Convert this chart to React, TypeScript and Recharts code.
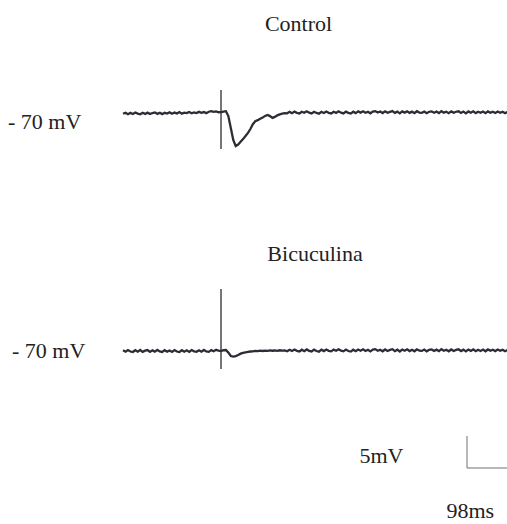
import React from "react";
import { LineChart, Line, XAxis, YAxis, ReferenceLine } from "recharts";

// Sampling grid (ms), stimulus at t = 0
const STEP_MS = 6;
const START_MS = -240;

// Membrane potential traces (mV)
const controlMv: number[] = [
  -70.12, -69.95, -70.18, -69.98, -70.15, -69.92, -70.1, -70.2, -69.96, -70.14,
  -69.94, -70.16, -70.0, -69.9, -70.13, -69.95, -70.17, -69.97, -70.08, -69.88,
  -70.12, -69.93, -70.06, -69.86, -70.1, -69.94, -70.02, -69.84, -70.05, -69.9,
  -70.0, -69.82, -69.96, -69.85, -70.02, -69.8, -69.72, -69.82, -69.74, -69.88,
  -69.85, -69.77, -69.72, -70.47, -72.34, -74.22, -75.16, -74.92, -74.5, -74.08,
  -73.6, -73.1, -72.5, -71.75, -71.28, -71.12, -70.9, -70.72, -70.45, -70.3,
  -70.48, -70.76, -70.6, -70.36, -70.22, -70.1, -70.02,
  -70.05, -69.82, -70.02, -69.78, -69.98, -70.08, -69.8, -69.96, -69.74, -69.95,
  -70.06, -69.8, -69.99, -70.1, -69.83, -70.0, -69.76, -69.97, -70.07, -69.81,
  -69.98, -69.74, -69.95, -70.06, -69.79, -69.97, -70.09, -69.8, -70.01, -69.75,
  -69.94, -69.72, -69.96, -69.8, -70.04, -69.78, -69.7, -69.93, -69.77, -70.0,
  -69.74, -69.96, -69.82, -69.7, -69.98, -69.78, -70.05, -69.75, -69.94, -69.73,
  -69.98, -69.79, -70.02, -69.72, -69.93, -69.97, -69.76, -70.03, -69.8, -69.74,
  -69.96, -69.78, -70.01, -69.71, -69.94, -69.8, -70.02, -69.75, -69.97, -69.8,
  -69.73, -69.99, -69.78, -70.05, -69.76, -69.96, -69.74, -70.01, -69.8, -69.97,
  -69.77, -70.03, -69.75, -69.95, -69.79, -70.0, -69.76, -69.96, -69.8, -70.02,
  -69.84,
];

const bicuculinaMv: number[] = [
  -69.9, -70.12, -69.86, -70.08, -70.16, -69.88, -70.1, -69.84, -70.14, -69.95,
  -69.85, -70.15, -69.9, -70.1, -69.83, -70.06, -70.16, -69.87, -70.1, -69.92,
  -70.14, -69.85, -70.08, -70.17, -69.88, -70.11, -69.9, -70.14, -69.86, -70.06,
  -70.12, -69.88, -70.1, -69.84, -70.08, -70.13, -69.86, -70.04, -69.82, -69.94,
  -70.0, -69.88, -69.85, -70.25, -70.78, -70.88, -70.8, -70.62, -70.42, -70.3,
  -70.2, -70.14, -70.08, -70.05, -69.98, -70.03, -69.95, -70.0, -69.93, -69.98,
  -69.9, -69.96, -69.92, -69.99, -69.89, -69.95, -69.91,
  -70.04, -69.8, -70.0, -69.78, -69.98, -70.08, -69.8, -70.02, -69.76, -69.97,
  -70.07, -69.79, -70.0, -70.1, -69.8, -70.01, -69.77, -69.98, -70.06, -69.79,
  -69.97, -69.74, -69.94, -70.05, -69.78, -70.0, -70.09, -69.8, -70.03, -69.77,
  -69.95, -69.73, -70.0, -69.8, -70.06, -69.78, -69.71, -69.97, -69.8, -70.04,
  -69.76, -69.99, -69.82, -69.72, -70.02, -69.79, -70.07, -69.77, -69.96, -69.74,
  -70.01, -69.8, -70.04, -69.73, -69.95, -69.99, -69.77, -70.05, -69.82, -69.75,
  -69.98, -69.79, -70.03, -69.72, -69.96, -69.81, -70.04, -69.76, -69.99, -69.82,
  -69.74, -70.01, -69.79, -70.06, -69.77, -69.98, -69.75, -70.03, -69.81, -69.99,
  -69.78, -70.04, -69.76, -69.96, -69.8, -70.01, -69.77, -69.97, -69.81, -70.03,
  -69.85,
];

// Stimulus artifacts (mV extent at t = 0)
const controlArtifact: [number, number] = [-66.41, -75.63];
const bicuculinaArtifact: [number, number] = [-60.31, -72.81];

// Calibration bar
const SCALE_MV = 5;
const SCALE_MS = 98;

// Labels
const TITLE_CONTROL = "Control";
const TITLE_BICU = "Bicuculina";
const RESTING_LABEL = "- 70 mV";
const SCALE_MV_LABEL = "5mV";
const SCALE_MS_LABEL = "98ms";

const timesMs = controlMv.map((_, i) => START_MS + STEP_MS * i);
const data = timesMs.map((t, i) => ({
  t,
  control: controlMv[i],
  bicu: bicuculinaMv[i],
}));

const W = 507;
const H = 524;
const X_DOMAIN: [number, number] = [-541.5, 700.7];
const Y_DOMAIN_A: [number, number] = [-134.22, -52.34];
const Y_DOMAIN_B: [number, number] = [-97.03, -15.16];
const BAR_T = X_DOMAIN[1] - SCALE_MS;
const BAR_BOTTOM = -88.28;

const TRACE = "#2a2d33";
const FONT = "'Liberation Serif', 'Times New Roman', serif";

export default function App() {
  return (
    <div style={{ position: "absolute", left: 0, top: 0, width: W, height: H, background: "#fff" }}>
      <LineChart width={W} height={H} data={data} margin={{ top: 0, right: 0, bottom: 0, left: 0 }}>
        <XAxis dataKey="t" type="number" domain={X_DOMAIN} allowDataOverflow hide />
        <YAxis yAxisId="a" type="number" domain={Y_DOMAIN_A} allowDataOverflow hide />
        <YAxis yAxisId="b" type="number" domain={Y_DOMAIN_B} allowDataOverflow hide />
        <Line
          yAxisId="a"
          dataKey="control"
          stroke={TRACE}
          strokeWidth={2.3}
          strokeLinecap="butt"
          dot={false}
          activeDot={false}
          isAnimationActive={false}
        />
        <Line
          yAxisId="b"
          dataKey="bicu"
          stroke={TRACE}
          strokeWidth={2.3}
          strokeLinecap="butt"
          dot={false}
          activeDot={false}
          isAnimationActive={false}
        />
        <ReferenceLine
          yAxisId="a"
          segment={[{ x: 0, y: controlArtifact[0] }, { x: 0, y: controlArtifact[1] }]}
          stroke={TRACE}
          strokeWidth={1.3}
        />
        <ReferenceLine
          yAxisId="b"
          segment={[{ x: 0, y: bicuculinaArtifact[0] }, { x: 0, y: bicuculinaArtifact[1] }]}
          stroke={TRACE}
          strokeWidth={1.3}
        />
        <ReferenceLine
          yAxisId="b"
          segment={[{ x: BAR_T, y: BAR_BOTTOM + SCALE_MV }, { x: BAR_T, y: BAR_BOTTOM }]}
          stroke="#6b7078"
          strokeWidth={1}
        />
        <ReferenceLine
          yAxisId="b"
          segment={[{ x: BAR_T, y: BAR_BOTTOM }, { x: BAR_T + SCALE_MS, y: BAR_BOTTOM }]}
          stroke="#6b7078"
          strokeWidth={1}
        />
      </LineChart>
      <svg
        width={W}
        height={H}
        style={{ position: "absolute", left: 0, top: 0, pointerEvents: "none" }}
        fontFamily={FONT}
        fontSize={22}
        fill="#222"
      >
        <text x={298.5} y={31} textAnchor="middle">{TITLE_CONTROL}</text>
        <text x={8} y={129}>{RESTING_LABEL}</text>
        <text x={315} y={261} textAnchor="middle">{TITLE_BICU}</text>
        <text x={12} y={358}>{RESTING_LABEL}</text>
        <text x={359.5} y={463}>{SCALE_MV_LABEL}</text>
        <text x={446.5} y={518}>{SCALE_MS_LABEL}</text>
      </svg>
    </div>
  );
}
